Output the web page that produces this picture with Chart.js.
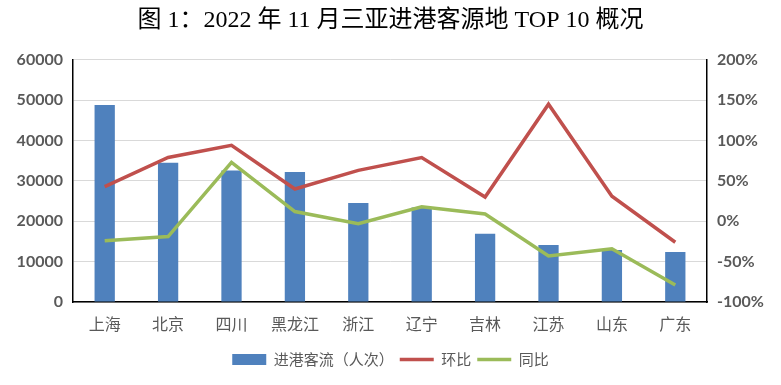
<!DOCTYPE html>
<html>
<head>
<meta charset="utf-8">
<script src="https://cdn.jsdelivr.net/npm/chart.js@4.4.1/dist/chart.umd.min.js"></script>
<style>
  html, body { margin: 0; padding: 0; background: #fff; }
  #wrap { width: 781px; height: 385px; }
</style>
</head>
<body>
<div id="wrap"><canvas id="chart" width="781" height="385"></canvas></div>
<script>
// 2022 年 11 月三亚进港客源地 TOP 10
const provinces = ['上海', '北京', '四川', '黑龙江', '浙江', '辽宁', '吉林', '江苏', '山东', '广东'];
const arrivals = [48800, 34500, 32600, 32200, 24500, 23400, 16900, 14100, 12900, 12400];
const momPct = [43, 79, 94, 40, 63, 79, 30, 145, 31, -26];   // 环比
const yoyPct = [-24, -19, 73, 12, -3, 18, 9, -43, -34, -79]; // 同比

const leftTicks = { min: 0, max: 60000, step: 10000 };
const rightTicks = { min: -100, max: 200, step: 50 };

const GREY = '#595959';
const NUM_FONT = "Lato, 'Noto Sans CJK SC', sans-serif";
const CJK_FONT = "'Noto Sans CJK SC', sans-serif";

new Chart(document.getElementById('chart'), {
  data: {
    labels: provinces,
    datasets: [
      {
        type: 'bar',
        label: '进港客流（人次）',
        data: arrivals,
        backgroundColor: '#4F81BD',
        borderWidth: 0,
        barPercentage: 0.32,
        categoryPercentage: 1,
        yAxisID: 'y',
        order: 2,
        pointStyle: 'rect',
      },
      {
        type: 'line',
        label: '环比',
        data: momPct,
        borderColor: '#C0504D',
        backgroundColor: '#C0504D',
        borderWidth: 3.5,
        pointRadius: 0,
        tension: 0,
        yAxisID: 'y1',
        order: 1,
        pointStyle: 'line',
      },
      {
        type: 'line',
        label: '同比',
        data: yoyPct,
        borderColor: '#9BBB59',
        backgroundColor: '#9BBB59',
        borderWidth: 3.5,
        pointRadius: 0,
        tension: 0,
        yAxisID: 'y1',
        order: 0,
        pointStyle: 'line',
      },
    ],
  },
  options: {
    responsive: false,
    animation: false,
    layout: { padding: { left: 0, right: 0, top: 0, bottom: 8 } },
    plugins: {
      title: {
        display: true,
        text: '图 1：2022 年 11 月三亚进港客源地 TOP 10 概况',
        color: '#000',
        font: { family: "'Liberation Serif', 'Noto Sans CJK SC', serif", size: 24, weight: 'normal' },
        padding: { top: 6, bottom: 25 },
      },
      legend: {
        position: 'bottom',
        labels: {
          usePointStyle: true,
          pointStyleWidth: 34,
          boxHeight: 11,
          color: GREY,
          font: { family: CJK_FONT, size: 15 },
          padding: 6,
          sort: (a, b) => a.datasetIndex - b.datasetIndex,
        },
      },
      tooltip: { enabled: false },
    },
    scales: {
      x: {
        grid: { display: false },
        border: { color: '#000', width: 1.5 },
        ticks: { color: GREY, font: { family: CJK_FONT, size: 16 }, padding: 4 },
        afterFit: (s) => { s.height = 44; },
      },
      y: {
        position: 'left',
        min: leftTicks.min,
        max: leftTicks.max,
        ticks: {
          stepSize: leftTicks.step,
          color: GREY,
          font: { family: NUM_FONT, size: 16, weight: 'bold' },
          padding: 10,
          callback: (v) => String(v),
        },
        grid: { color: '#D9D9D9', drawTicks: false, lineWidth: 1 },
        border: { color: '#000', width: 1.5 },
        afterFit: (s) => { s.width = 73; },
      },
      y1: {
        position: 'right',
        min: rightTicks.min,
        max: rightTicks.max,
        ticks: {
          stepSize: rightTicks.step,
          color: GREY,
          font: { family: NUM_FONT, size: 16, weight: 'bold' },
          padding: 10,
          callback: (v) => v + '%',
        },
        grid: { display: false, drawTicks: false },
        border: { color: '#000', width: 1.5 },
        afterFit: (s) => { s.width = 74; },
      },
    },
  },
});
</script>
</body>
</html>
